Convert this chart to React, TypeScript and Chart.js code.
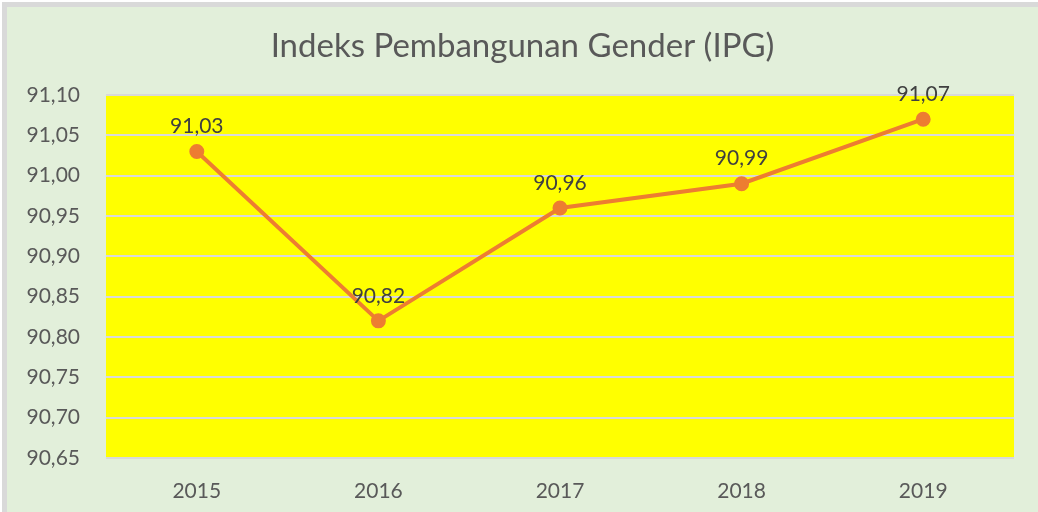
import React, { useEffect, useRef } from "react";
import { Chart, registerables } from "chart.js";

Chart.register(...registerables);

const titleText = "Indeks Pembangunan Gender (IPG)";
const years = ["2015", "2016", "2017", "2018", "2019"];
const ipgValues = [91.03, 90.82, 90.96, 90.99, 91.07];
const yMin = 90.65;
const yMax = 91.1;
const yStep = 0.05;

const FONT = "Lato, 'Open Sans', sans-serif";
const fmt = (v: number) => v.toFixed(2).replace(".", ",");

const plotBg = {
  id: "plotBg",
  beforeDraw(chart: any) {
    const { ctx, chartArea } = chart;
    ctx.save();
    ctx.fillStyle = "#FFFF00";
    ctx.fillRect(chartArea.left, chartArea.top, chartArea.right - chartArea.left, chartArea.bottom - chartArea.top);
    ctx.restore();
  },
};

const titlePlugin = {
  id: "centerTitle",
  afterDraw(chart: any) {
    const { ctx, width } = chart;
    ctx.save();
    ctx.font = `33px ${FONT}`;
    ctx.fillStyle = "#595959";
    ctx.textAlign = "center";
    ctx.textBaseline = "middle";
    ctx.fillText(titleText, width / 2, 39);
    ctx.restore();
  },
};

const dataLabels = {
  id: "dataLabels",
  afterDatasetsDraw(chart: any) {
    const { ctx } = chart;
    const meta = chart.getDatasetMeta(0);
    const data = chart.data.datasets[0].data as number[];
    ctx.save();
    ctx.font = `21px ${FONT}`;
    ctx.fillStyle = "#404040";
    ctx.textAlign = "center";
    ctx.textBaseline = "middle";
    meta.data.forEach((pt: any, i: number) => {
      ctx.fillText(fmt(data[i]), pt.x, pt.y - 25);
    });
    ctx.restore();
  },
};

export default function App() {
  const ref = useRef<HTMLCanvasElement>(null);
  useEffect(() => {
    document.body.style.margin = "0";
    const chart = new Chart(ref.current!, {
      type: "line",
      data: {
        labels: years,
        datasets: [
          {
            data: ipgValues,
            borderColor: "#ED7D31",
            backgroundColor: "#ED7D31",
            borderWidth: 4,
            pointRadius: 5.5,
            pointHoverRadius: 5.5,
            pointBackgroundColor: "#ED7D31",
            pointBorderColor: "#ED7D31",
            tension: 0,
          },
        ],
      },
      options: {
        animation: false,
        responsive: false,
        layout: { padding: { left: 0, right: 24, top: 88, bottom: 0 } },
        plugins: {
          legend: { display: false },
          tooltip: { enabled: false },
          title: { display: false },
        },
        scales: {
          x: {
            offset: true,
            grid: { display: false, drawTicks: false },
            border: { display: false },
            ticks: { color: "#595959", font: { family: FONT, size: 21 }, padding: 21 },
            afterFit(scale: any) {
              scale.height = 54;
            },
          },
          y: {
            min: yMin,
            max: yMax,
            grid: { color: "#D9D9D9", lineWidth: 2, drawTicks: false },
            border: { display: false },
            ticks: {
              stepSize: yStep,
              color: "#595959",
              font: { family: FONT, size: 21 },
              padding: 26,
              callback: (v: any) => fmt(Number(v)),
            },
            afterFit(scale: any) {
              scale.width = 99;
            },
          },
        },
      },
      plugins: [plotBg, dataLabels, titlePlugin],
    });
    return () => chart.destroy();
  }, []);
  return (
    <div style={{ width: 1038, height: 512, background: "#FFFFFF", boxSizing: "border-box", paddingTop: 2, paddingLeft: 2 }}>
      <div
        style={{
          width: 1036,
          height: 510,
          boxSizing: "border-box",
          borderTop: "5px solid #D9D9D9",
          borderLeft: "5px solid #D9D9D9",
          background: "#E2EFDA",
        }}
      >
        <canvas ref={ref} width={1031} height={505} style={{ display: "block" }} />
      </div>
    </div>
  );
}
